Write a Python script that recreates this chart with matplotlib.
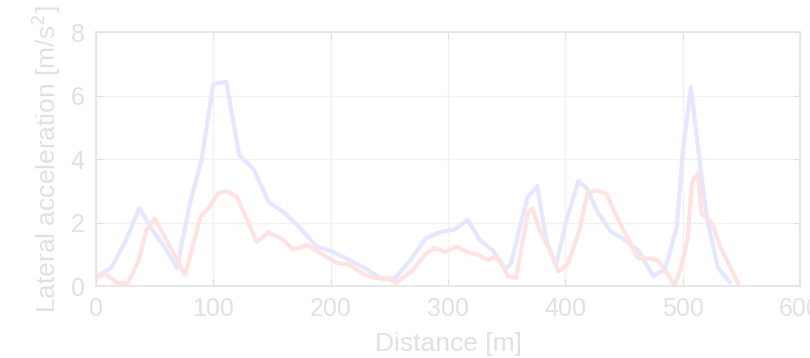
import matplotlib
matplotlib.use("Agg")
import matplotlib.pyplot as plt

# Lateral acceleration along the track, two runs
dist_a = [0, 13, 26, 37, 48, 59, 69, 80, 90, 100, 111, 122, 135, 147, 160,
          174, 188, 202, 216, 229, 244, 255, 268, 281, 293, 305, 317, 327,
          338, 349, 354, 363, 368, 376, 384, 392, 401, 411, 418, 428, 439,
          449, 462, 475, 485, 495, 500, 507, 515, 521, 530, 540]
acc_a = [0.28, 0.57, 1.48, 2.45, 1.77, 1.2, 0.57, 2.6, 3.97, 6.37, 6.43,
         4.13, 3.65, 2.65, 2.33, 1.83, 1.24, 1.08, 0.82, 0.57, 0.21, 0.25,
         0.82, 1.5, 1.7, 1.77, 2.08, 1.45, 1.13, 0.53, 0.73, 2.14, 2.8, 3.15,
         1.39, 0.66, 2.08, 3.31, 3.09, 2.3, 1.7, 1.5, 1.13, 0.31, 0.53, 1.87,
         4.19, 6.27, 3.76, 2.08, 0.57, 0.13]

dist_b = [0, 8, 18, 27, 36, 43, 50, 63, 76, 89, 96, 104, 111, 120, 137, 147,
          160, 168, 180, 205, 216, 227, 238, 248, 256, 270, 280, 288, 298,
          307, 317, 325, 334, 340, 346, 351, 358, 368, 372, 378, 386, 394,
          402, 412, 419, 427, 435, 446, 454, 462, 472, 479, 486, 493, 498,
          504, 508, 513, 516, 525, 532, 539, 547]
acc_b = [0.25, 0.38, 0.1, 0.1, 0.77, 1.76, 2.13, 1.25, 0.35, 2.18, 2.45,
         2.92, 3.0, 2.82, 1.39, 1.69, 1.45, 1.15, 1.29, 0.73, 0.67, 0.4, 0.25,
         0.25, 0.1, 0.5, 0.98, 1.2, 1.08, 1.24, 1.06, 1.0, 0.82, 0.92, 0.66,
         0.31, 0.25, 2.3, 2.45, 1.76, 1.2, 0.45, 0.69, 1.76, 2.94, 3.02, 2.9,
         2.02, 1.45, 0.87, 0.87, 0.8, 0.45, 0.03, 0.5, 1.45, 3.28, 3.56, 2.3,
         1.98, 1.24, 0.72, 0.09]

xticks = [0, 100, 200, 300, 400, 500, 600]
yticks = [0, 2, 4, 6, 8]

text_col = "#e1e1e1"
plt.rcParams["font.family"] = ["Liberation Sans", "DejaVu Sans"]

fig = plt.figure(figsize=(8.1, 3.58), dpi=100)
ax = fig.add_axes([0.1185, 0.201, 0.8692, 0.7096])

ax.plot(dist_a, acc_a, color="#e6e6ff", linewidth=3)
ax.plot(dist_b, acc_b, color="#ffe3e3", linewidth=3)

ax.set_xlim(0, 600)
ax.set_ylim(0, 8)
ax.set_xticks(xticks)
ax.set_yticks(yticks)
ax.grid(True, color="#f2f2f2", linewidth=1)
ax.set_axisbelow(True)
ax.tick_params(direction="in", top=True, right=True, length=5,
               color="#e0e0e0", labelcolor=text_col, labelsize=18, pad=8)
for s in ax.spines.values():
    s.set_color("#e3e3e3")
    s.set_linewidth(1.2)

ax.set_xlabel("Distance [m]", color=text_col, fontsize=19, labelpad=8)
ax.set_ylabel("Lateral acceleration [m/s$^2$]", color=text_col, fontsize=19,
              labelpad=6)

fig.savefig("out.png", dpi=100)
